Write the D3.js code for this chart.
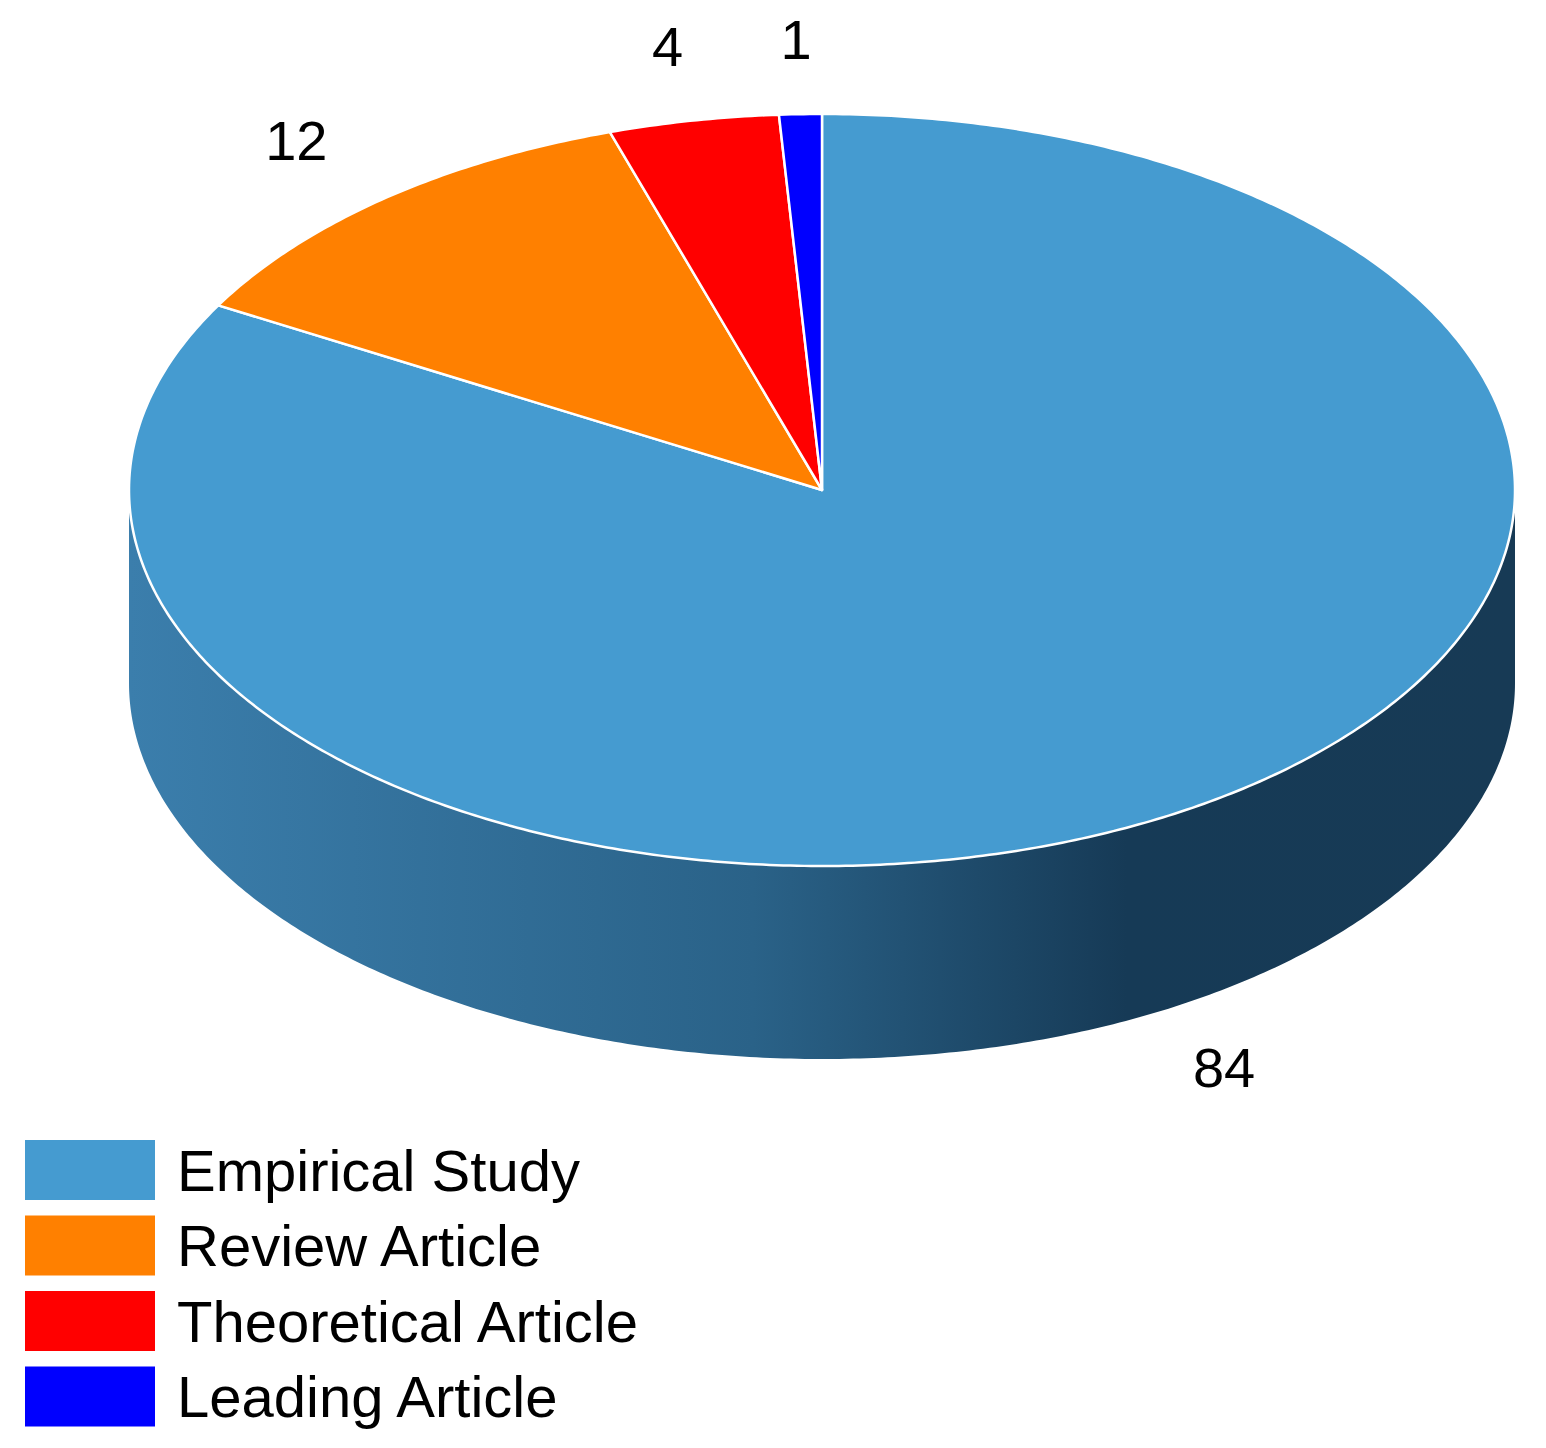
<!DOCTYPE html>
<html><head><meta charset="utf-8">
<script src="https://cdn.jsdelivr.net/npm/d3@7"></script>
<style>body{margin:0;background:#fff}</style>
</head><body>
<div id="chart"></div>
<script>
// Data
const categories = ["Empirical Study", "Review Article", "Theoretical Article", "Leading Article"];
const values = [84, 12, 4, 1];
const colors = ["#459bd0", "#ff8000", "#ff0000", "#0000ff"];

const W = 1546, H = 1448;
const cx = 822, cy = 490, rx = 693, ry = 376, depth = 193;

const svg = d3.select("#chart").append("svg").attr("width", W).attr("height", H);

// angle measured clockwise from 12 o'clock
const px = (a, f = 1) => cx + f * rx * Math.sin(a);
const py = (a, f = 1) => cy - f * ry * Math.cos(a);

const pie = d3.pie().sort(null).startAngle(0).endAngle(2 * Math.PI);
const arcs = pie(values);

function arcPoints(a0, a1, dy = 0) {
  const n = Math.max(2, Math.ceil((a1 - a0) / 0.01));
  return d3.range(n + 1).map(i => {
    const a = a0 + (a1 - a0) * i / n;
    return [px(a), py(a) + dy];
  });
}

// Side gradient
const grad = svg.append("defs").append("linearGradient").attr("id", "side")
  .attr("x1", "0%").attr("x2", "100%");
grad.append("stop").attr("offset", "0%").attr("stop-color", "#3b7eac");
grad.append("stop").attr("offset", "45%").attr("stop-color", "#2a6288");
grad.append("stop").attr("offset", "72%").attr("stop-color", "#163a56");
grad.append("stop").attr("offset", "100%").attr("stop-color", "#173a55");

// Side (front half, visible part of each slice)
arcs.forEach((d, i) => {
  const a0 = Math.max(d.startAngle, Math.PI / 2), a1 = Math.min(d.endAngle, 3 * Math.PI / 2);
  if (a1 <= a0) return;
  const top = arcPoints(a0, a1);
  const bot = arcPoints(a0, a1, depth).reverse();
  svg.append("path")
    .attr("d", d3.line()(top.concat(bot)) + "Z")
    .attr("fill", i === 0 ? "url(#side)" : d3.color(colors[i]).darker(1.2));
});

// Top slices
arcs.forEach((d, i) => {
  const pts = [[cx, cy]].concat(arcPoints(d.startAngle, d.endAngle));
  svg.append("path")
    .attr("d", d3.line()(pts) + "Z")
    .attr("fill", colors[i])
    .attr("stroke", "#fff").attr("stroke-width", 2.5).attr("stroke-linejoin", "round");
});

// Value labels
arcs.forEach((d, i) => {
  const m = (d.startAngle + d.endAngle) / 2;
  const front = Math.cos(m) < 0;
  svg.append("text")
    .attr("x", px(m, front ? 1.15 : 1.2))
    .attr("y", py(m, 1.2) + (front ? depth - 5 : 0))
    .attr("text-anchor", "middle").attr("dominant-baseline", "central")
    .style("font-family", "'Liberation Sans', Arial, sans-serif").style("font-size", "56px")
    .text(values[i]);
});

// Legend
const lg = svg.append("g").attr("transform", "translate(25,1140)");
categories.forEach((c, i) => {
  const g = lg.append("g").attr("transform", `translate(0,${i * 75.5})`);
  g.append("rect").attr("width", 130).attr("height", 60).attr("fill", colors[i]);
  g.append("text").attr("x", 152).attr("y", 30).attr("dominant-baseline", "central")
    .style("font-family", "'Liberation Sans', Arial, sans-serif").style("font-size", "58px")
    .text(c);
});
</script>
</body></html>
